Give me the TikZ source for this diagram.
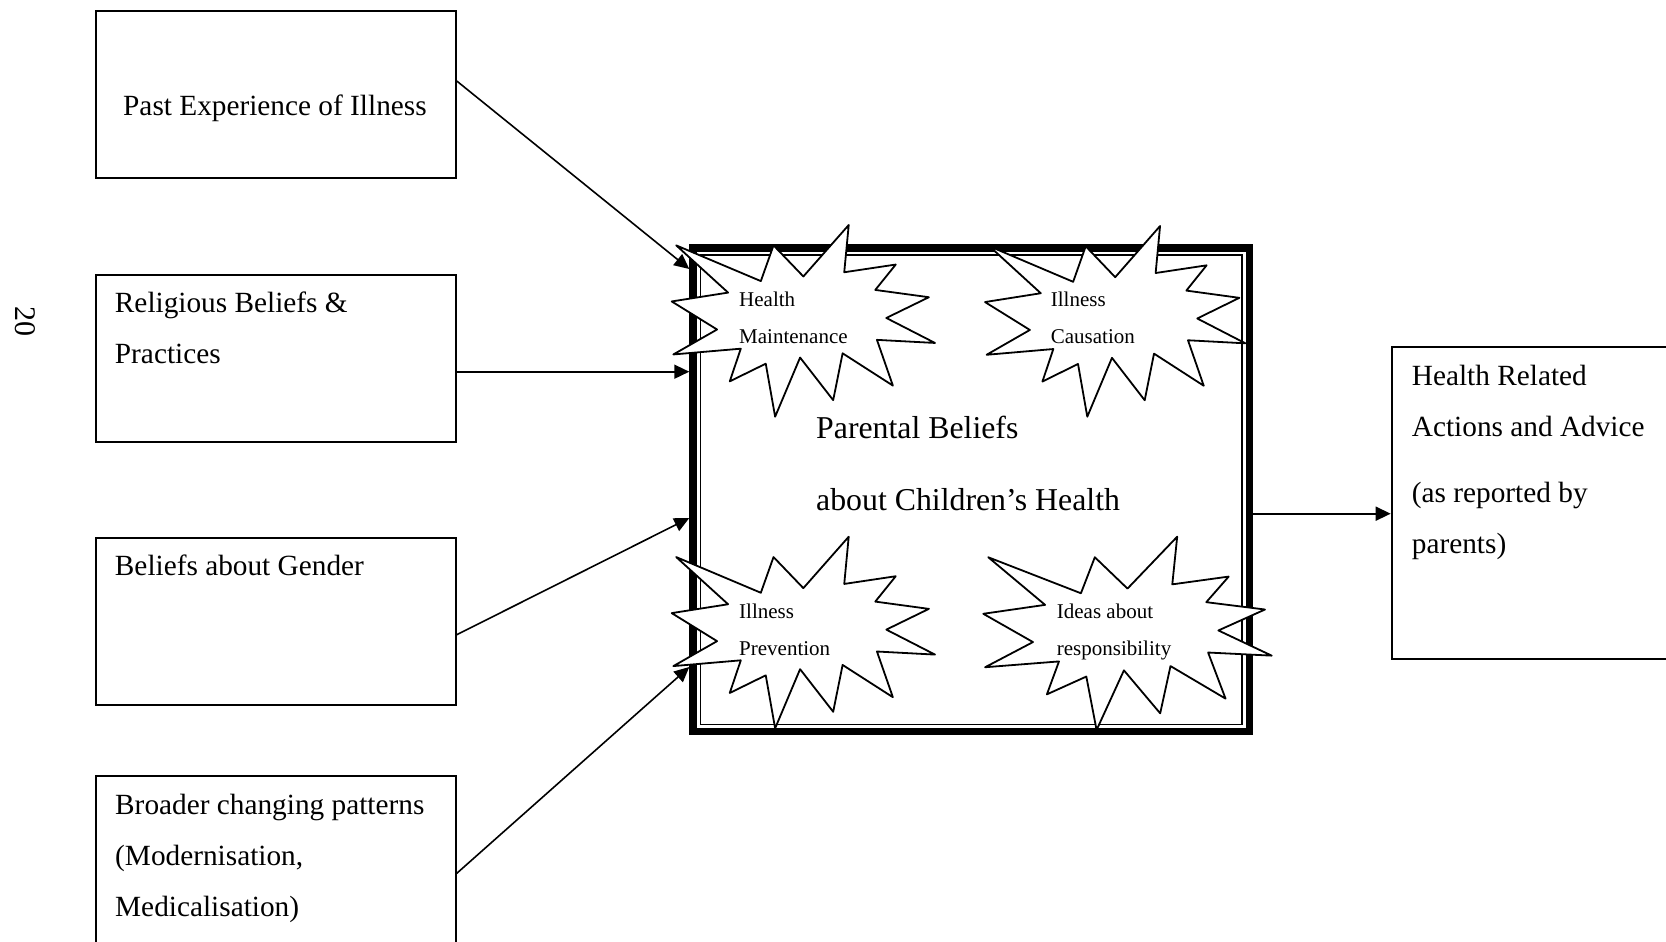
\documentclass[tikz,border=0pt]{standalone}
\usepackage{fontspec}
\setmainfont{Liberation Serif}
\usetikzlibrary{arrows.meta}
\newcommand\burst[4]{%
  \begin{scope}[shift={(#1,#2)},xscale=#3,yscale=#4]
    \draw[seal] (0.5,0.2685) -- (0.6723,0) -- (0.6553,0.2465) -- (0.8509,0.2063)
      -- (0.7732,0.3387) -- (0.9767,0.3767) -- (0.8151,0.4850) -- (1,0.6153)
      -- (0.7795,0.5992) -- (0.8400,0.8377) -- (0.6491,0.6693) -- (0.6133,0.9137)
      -- (0.4876,0.6914) -- (0.3928,1) -- (0.3572,0.7235) -- (0.2205,0.8156)
      -- (0.2624,0.6452) -- (0.00625,0.6753) -- (0.1723,0.5451) -- (0,0.3988)
      -- (0.2142,0.3526) -- (0.0171,0.1063) -- (0.3385,0.2926) -- (0.3867,0.1063) -- cycle;
  \end{scope}}
\begin{document}
\begin{tikzpicture}[x=1pt,y=-1pt,
  box/.style={draw, line width=1.8pt, rectangle, inner sep=0pt, anchor=north west},
  txt/.style={anchor=base west, inner sep=0pt, font=\fontsize{29.3}{35}\selectfont},
  big/.style={anchor=base west, inner sep=0pt, font=\fontsize{31.8}{38}\selectfont},
  small/.style={anchor=base west, inner sep=0pt, font=\fontsize{21}{25}\selectfont},
  arr/.style={line width=1.6pt, -{Triangle[length=15pt,width=14pt]}},
  seal/.style={draw, fill=white, line width=1.8pt, line join=round}]
\path[use as bounding box, clip] (0,0) rectangle (1666,942);

% page number
\node[rotate=-90, font=\fontsize{30}{36}\selectfont, inner sep=0pt] (pn) at (25.5,321) {20};

% left boxes
\node[box, minimum width=360pt, minimum height=167pt] (b1) at (95,10.3) {};
\node[txt] (t1) at (123,115) {Past Experience of Illness};
\node[box, minimum width=360pt, minimum height=167pt] (b2) at (95,274) {};
\node[txt] (t2a) at (114.75,312.5) {Religious Beliefs \&};
\node[txt] (t2b) at (114.75,363.5) {Practices};
\node[box, minimum width=360pt, minimum height=167pt] (b3) at (95,537) {};
\node[txt] (t3) at (114.75,575) {Beliefs about Gender};
\node[box, minimum width=360pt, minimum height=220pt] (b4) at (95,775) {};
\node[txt] (t4a) at (115,814) {Broader changing patterns};
\node[txt] (t4b) at (115,865) {(Modernisation,};
\node[txt] (t4c) at (115,916) {Medicalisation)};

% central box
\node[minimum width=563.4pt, minimum height=491pt, inner sep=0pt, anchor=north west] (cb) at (689.3,244) {};
\draw[line width=7.5pt] ([shift={(3.75pt,-3.75pt)}]cb.north west) rectangle ([shift={(-3.75pt,3.75pt)}]cb.south east);
\draw[line width=1.5pt] ([shift={(11pt,-11pt)}]cb.north west) rectangle ([shift={(-11pt,11pt)}]cb.south east);

% right box
\node[box, minimum width=320pt, minimum height=312pt] (rb) at (1390.7,345.7) {};
\node[txt] (r1) at (1411.7,385.5) {Health Related};
\node[txt] (r2) at (1411.7,436.5) {Actions and Advice};
\node[txt] (r3) at (1411.7,502) {(as reported by};
\node[txt] (r4) at (1411.7,553) {parents)};

% arrows
\draw[arr] ([yshift=13.65pt]b1.east) -- ([yshift=-25pt]cb.north west);
\draw[arr] ([yshift=-13.3pt]b2.east) -- ([yshift=-13.3pt]b2.east -| cb.west);
\draw[arr] ([yshift=-13.3pt]b3.east) -- ([yshift=-274pt]cb.north west);
\draw[arr] ([yshift=-98.3pt]b4.north east) -- ([yshift=-423pt]cb.north west);
\draw[arr] ([yshift=-24pt]cb.east) -- ([yshift=-24pt]cb.east -| rb.west);

% explosions
\burst{671.7}{225}{263.3}{191.7}
\burst{985}{226}{260.4}{190.7}
\burst{671.7}{536.7}{263.3}{191.6}
\burst{983.3}{536.7}{288.4}{193.3}

\node[small] (s1a) at (739,306) {Health};
\node[small] (s1b) at (739,343.3) {Maintenance};
\node[small] (s2a) at (1050.7,306) {Illness};
\node[small] (s2b) at (1050.7,343.7) {Causation};
\node[small] (s3a) at (739,618.3) {Illness};
\node[small] (s3b) at (739,655) {Prevention};
\node[small] (s4a) at (1056.7,618.3) {Ideas about};
\node[small] (s4b) at (1056.7,655) {responsibility};

% central text
\node[big] (c1) at (816,438.5) {Parental Beliefs};
\node[big] (c2) at (816,510) {about Children’s Health};
\end{tikzpicture}
\end{document}
